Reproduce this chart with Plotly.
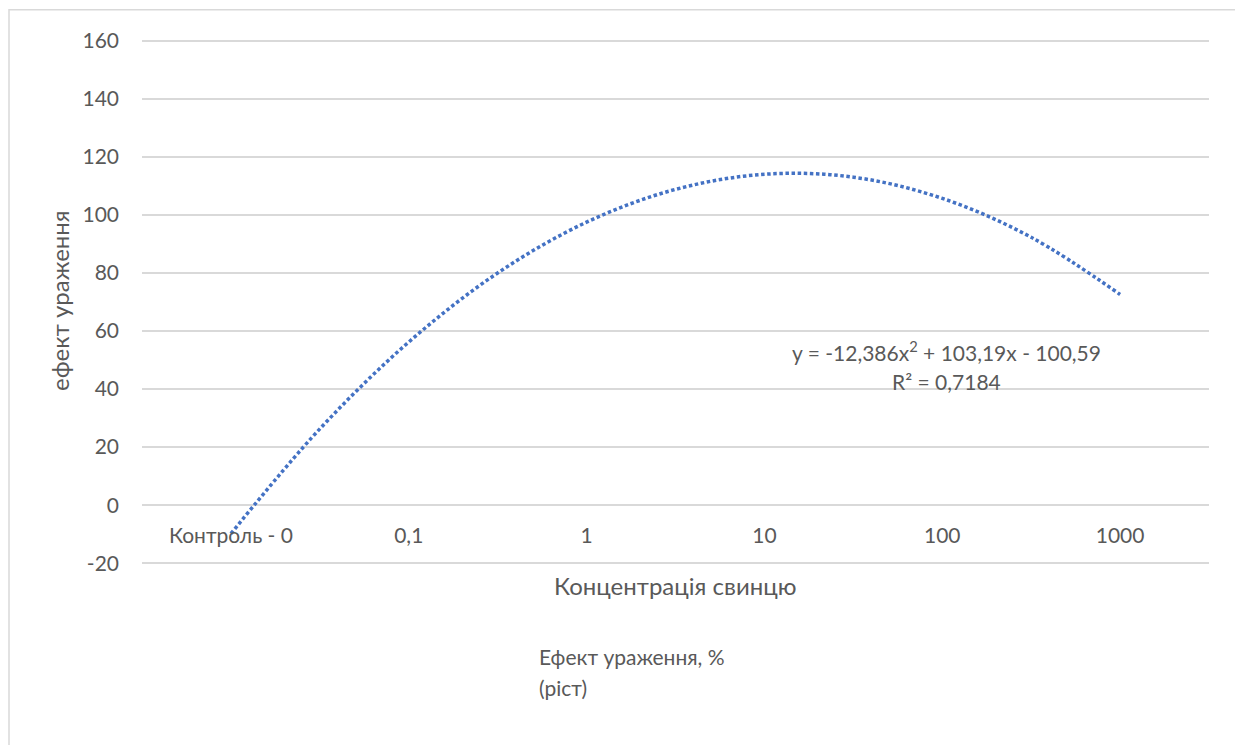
import plotly.graph_objects as go

# категорії осі X (концентрація свинцю)
categories = ["Контроль - 0", "0,1", "1", "10", "100", "1000"]
cat_pos = [1, 2, 3, 4, 5, 6]

# поліноміальна лінія тренду
trend_x = [1, 1.5, 2, 2.5, 3, 3.5, 4, 4.5, 5, 5.5, 6]
trend_y = [-9.8, 26.3, 56.2, 80.0, 97.5, 108.8, 114.0, 113.0, 105.7, 92.3, 72.6]

y_ticks = [-20, 0, 20, 40, 60, 80, 100, 120, 140, 160]
y_labels = ["-20", "0", "20", "40", "60", "80", "100", "120", "140", "160"]

equation = "y = -12,386x<sup>2</sup> + 103,19x - 100,59"
r_squared = "R² = 0,7184"

FONT = "Lato, 'Open Sans', sans-serif"
GREY = "#595959"

# сторінка має відступ 8px, тому все зсунуто на 8px
OFF = 8
Y0, Y1 = -20.6, 160.6
K = 2.9  # px на одиницю осі Y
L, PW = 142, 1067
T = 41 - (Y1 - 160) * K
PH = (Y1 - Y0) * K


def px(x):
    return (x - L) / PW


def py(y):
    return 1 - (y - T) / PH


fig = go.Figure()
fig.add_trace(go.Scatter(
    x=trend_x, y=trend_y,
    mode="lines",
    line=dict(color="#4472C4", width=3.5, dash="3.5px,2.6px", shape="spline"),
    showlegend=False,
    hoverinfo="skip"))

fig.update_layout(
    width=1243 - OFF, height=745 - OFF,
    margin=dict(l=L - OFF, r=1243 - L - PW, t=T - OFF, b=745 - T - PH),
    paper_bgcolor="white", plot_bgcolor="white",
    font=dict(family=FONT, color=GREY, size=21),
    xaxis=dict(
        range=[0.5, 6.5], tickvals=cat_pos, ticktext=categories,
        showgrid=False, zeroline=False, showline=False,
        anchor="free", position=(0 - Y0) / (Y1 - Y0),
        ticks="", ticklabelstandoff=16,
        tickfont=dict(size=21, color=GREY)),
    yaxis=dict(
        range=[Y0, Y1], tickvals=y_ticks, ticktext=y_labels,
        showgrid=True, gridcolor="#d9d9d9", gridwidth=1.5,
        zeroline=False, showline=False,
        ticks="", ticklabelstandoff=22,
        tickfont=dict(size=21, color=GREY)),
)

# рамка області діаграми
fig.add_shape(type="rect", xref="paper", yref="paper",
              x0=px(9), x1=px(1239), y0=py(760), y1=py(10),
              line=dict(color="#d9d9d9", width=1.5), fillcolor="rgba(0,0,0,0)")


def note(text, x, y, size=21, angle=0, xanchor="center"):
    fig.add_annotation(text=text, xref="paper", yref="paper",
                       x=px(x), y=py(y), xanchor=xanchor, yanchor="middle",
                       textangle=angle, showarrow=False,
                       font=dict(size=size, color=GREY))


note("ефект ураження", 60, 301, size=24, angle=-90)
note("Концентрація свинцю", 675, 585, size=24)
note("Ефект ураження, %", 537, 656, xanchor="left")
note("(ріст)", 537, 687, xanchor="left")
note(equation, 946, 351)
note(r_squared, 946, 381)

fig.write_html("out.html")
